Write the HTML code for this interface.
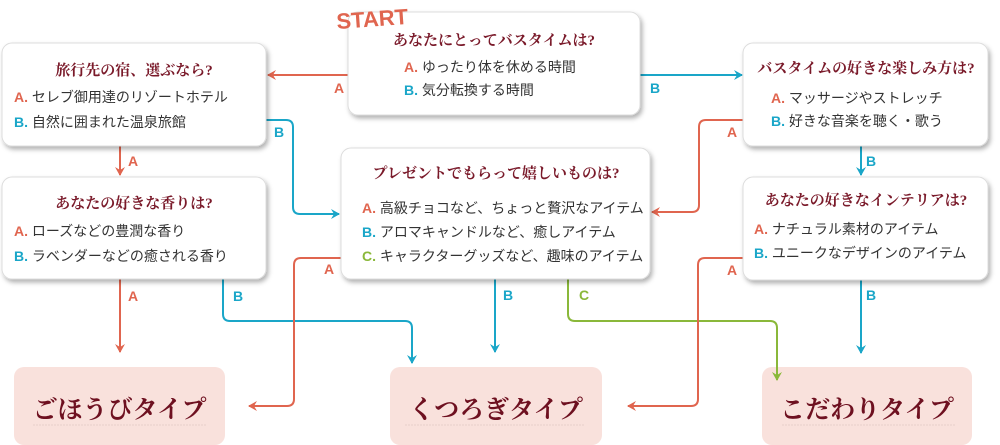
<!DOCTYPE html>
<html><head><meta charset="utf-8"><style>
html,body{margin:0;padding:0;background:#fff;width:1000px;height:445px;overflow:hidden}
svg{display:block}
.t{font-family:"Liberation Serif","Noto Serif CJK JP",serif;font-weight:bold;fill:#7a1a2a;font-size:15px}
.o{font-family:"Liberation Sans","Noto Sans CJK JP",sans-serif;fill:#333;font-size:14px}
.la{fill:#e0654f;font-weight:bold;font-family:"Liberation Sans",sans-serif}
.lb{fill:#1aa6c8;font-weight:bold;font-family:"Liberation Sans",sans-serif}
.lc{fill:#8ab83a;font-weight:bold;font-family:"Liberation Sans",sans-serif}
.lab{font-family:"Liberation Sans",sans-serif;font-weight:bold;font-size:14px}
.r{font-family:"Liberation Serif","Noto Serif CJK JP",serif;font-weight:bold;fill:#6e1020;font-size:25px}
</style></head><body>
<svg width="1000" height="445" viewBox="0 0 1000 445" xmlns="http://www.w3.org/2000/svg">
<defs>
<filter id="sh" x="-10%" y="-10%" width="120%" height="130%"><feDropShadow dx="2" dy="3" stdDeviation="2.5" flood-color="#000" flood-opacity="0.3"/></filter>
<marker id="ar" markerWidth="10" markerHeight="10" refX="8" refY="5" orient="auto" markerUnits="userSpaceOnUse"><path d="M0,0 L9,5 L0,10 L3,5z" fill="#e0654f"/></marker>
<marker id="ab" markerWidth="10" markerHeight="10" refX="8" refY="5" orient="auto" markerUnits="userSpaceOnUse"><path d="M0,0 L9,5 L0,10 L3,5z" fill="#1aa6c8"/></marker>
<marker id="ag" markerWidth="10" markerHeight="10" refX="8" refY="5" orient="auto" markerUnits="userSpaceOnUse"><path d="M0,0 L9,5 L0,10 L3,5z" fill="#8ab83a"/></marker>
<pattern id="wv" width="4" height="4" patternUnits="userSpaceOnUse"><path d="M0,3 L2,1 L4,3" stroke="#fff" stroke-width="1" fill="none"/></pattern>
</defs>
<g fill="#f9e1dc">
<rect x="14" y="367" width="211" height="78" rx="10"/>
<rect x="390" y="367" width="212" height="78" rx="10"/>
<rect x="762" y="367" width="210" height="78" rx="10"/>
</g>
<g fill="none" stroke-width="2">
<path d="M348,75 H268" stroke="#e0654f" marker-end="url(#ar)"/>
<path d="M640,75 H742" stroke="#1aa6c8" marker-end="url(#ab)"/>
<path d="M120,146 V175" stroke="#e0654f" marker-end="url(#ar)"/>
<path d="M266,120 H286 Q293,120 293,127 V207 Q293,214 300,214 H339" stroke="#1aa6c8" marker-end="url(#ab)"/>
<path d="M743,120 H706 Q699,120 699,127 V205 Q699,212 692,212 H652" stroke="#e0654f" marker-end="url(#ar)"/>
<path d="M861,146 V175" stroke="#1aa6c8" marker-end="url(#ab)"/>
<path d="M120,279 V352" stroke="#e0654f" marker-end="url(#ar)"/>
<path d="M223,279 V314 Q223,321 230,321 H405 Q412,321 412,328 V363" stroke="#1aa6c8" marker-end="url(#ab)"/>
<path d="M341,258 H301 Q294,258 294,265 V399 Q294,406 287,406 H249" stroke="#e0654f" marker-end="url(#ar)"/>
<path d="M495,279 V352" stroke="#1aa6c8" marker-end="url(#ab)"/>
<path d="M568,279 V314 Q568,321 575,321 H770 Q777,321 777,328 V380" stroke="#8ab83a" marker-end="url(#ag)"/>
<path d="M743,258 H705 Q698,258 698,265 V399 Q698,406 691,406 H628" stroke="#e0654f" marker-end="url(#ar)"/>
<path d="M861,280 V353" stroke="#1aa6c8" marker-end="url(#ab)"/>
</g>
<g class="lab">
<text x="334" y="93" class="la">A</text>
<text x="650" y="93" class="lb">B</text>
<text x="128" y="166" class="la">A</text>
<text x="274" y="137" class="lb">B</text>
<text x="727" y="137" class="la">A</text>
<text x="866" y="166" class="lb">B</text>
<text x="128" y="301" class="la">A</text>
<text x="233" y="301" class="lb">B</text>
<text x="324" y="274" class="la">A</text>
<text x="503" y="300" class="lb">B</text>
<text x="579" y="300" class="lc">C</text>
<text x="727" y="275" class="la">A</text>
<text x="866" y="300" class="lb">B</text>
</g>
<g fill="#fff" stroke="#ddd" stroke-width="1" filter="url(#sh)">
<rect x="348" y="12" width="292" height="103" rx="10"/>
<rect x="2" y="43" width="264" height="103" rx="10"/>
<rect x="2" y="177" width="264" height="102" rx="10"/>
<rect x="341" y="148" width="309" height="131" rx="10"/>
<rect x="743" y="43" width="245" height="103" rx="10"/>
<rect x="743" y="177" width="245" height="103" rx="10"/>
</g>
<text x="337" y="29" transform="rotate(-4 337 29)" style="font-family:'Liberation Sans',sans-serif;font-weight:bold;font-size:22px;fill:#e0654f">START</text>
<text x="494" y="45" text-anchor="middle" class="t">あなたにとってバスタイムは?</text>
<text x="404" y="72" class="o"><tspan class="la">A.</tspan> ゆったり体を休める時間</text>
<text x="404" y="95" class="o"><tspan class="lb">B.</tspan> 気分転換する時間</text>
<text x="134" y="75" text-anchor="middle" class="t">旅行先の宿、選ぶなら?</text>
<text x="14" y="102" class="o"><tspan class="la">A.</tspan> セレブ御用達のリゾートホテル</text>
<text x="14" y="127" class="o"><tspan class="lb">B.</tspan> 自然に囲まれた温泉旅館</text>
<text x="134" y="208" text-anchor="middle" class="t">あなたの好きな香りは?</text>
<text x="14" y="236" class="o"><tspan class="la">A.</tspan> ローズなどの豊潤な香り</text>
<text x="14" y="261" class="o"><tspan class="lb">B.</tspan> ラベンダーなどの癒される香り</text>
<text x="496" y="178" text-anchor="middle" class="t">プレゼントでもらって嬉しいものは?</text>
<text x="362" y="213" class="o"><tspan class="la">A.</tspan> 高級チョコなど、ちょっと贅沢なアイテム</text>
<text x="362" y="237" class="o"><tspan class="lb">B.</tspan> アロマキャンドルなど、癒しアイテム</text>
<text x="362" y="261" class="o"><tspan class="lc">C.</tspan> キャラクターグッズなど、趣味のアイテム</text>
<text x="866" y="73" text-anchor="middle" class="t">バスタイムの好きな楽しみ方は?</text>
<text x="771" y="103" class="o"><tspan class="la">A.</tspan> マッサージやストレッチ</text>
<text x="771" y="126" class="o"><tspan class="lb">B.</tspan> 好きな音楽を聴く・歌う</text>
<text x="866" y="205" text-anchor="middle" class="t">あなたの好きなインテリアは?</text>
<text x="754" y="234" class="o"><tspan class="la">A.</tspan> ナチュラル素材のアイテム</text>
<text x="754" y="258" class="o"><tspan class="lb">B.</tspan> ユニークなデザインのアイテム</text>
<g stroke="#e6cfca" stroke-width="1" stroke-dasharray="2 1">
<line x1="33" y1="425" x2="206" y2="425"/>
<line x1="405" y1="425" x2="585" y2="425"/>
<line x1="782" y1="425" x2="956" y2="425"/>
</g>
<text x="119.5" y="418" text-anchor="middle" class="r">ごほうびタイプ</text>
<text x="496" y="418" text-anchor="middle" class="r">くつろぎタイプ</text>
<text x="867" y="418" text-anchor="middle" class="r">こだわりタイプ</text>
</svg>
</body></html>
